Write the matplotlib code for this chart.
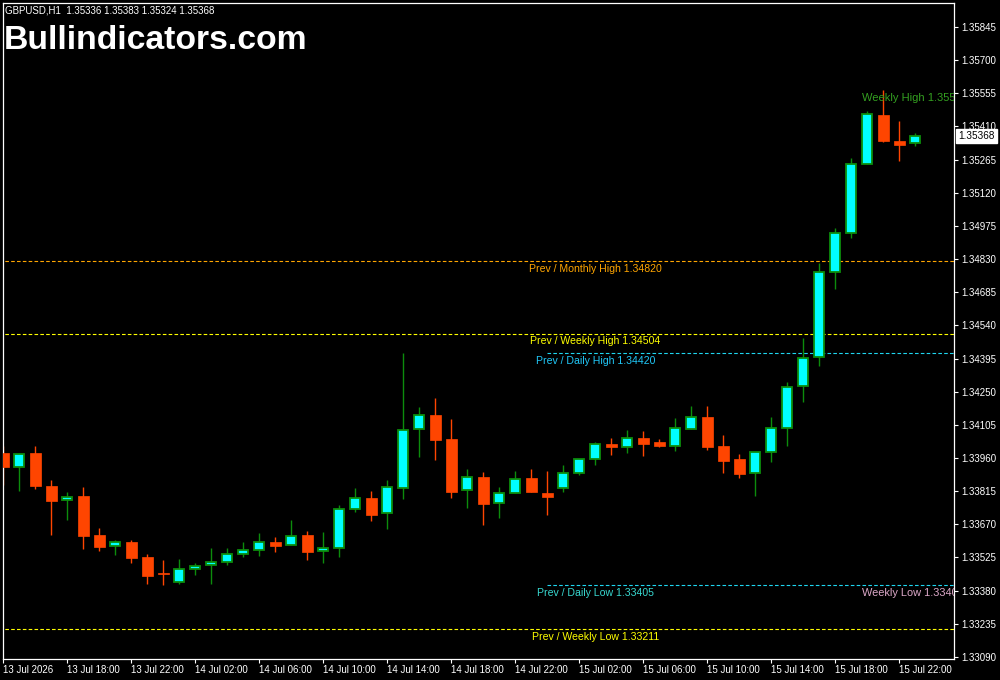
import numpy as np
import pandas as pd
import matplotlib
matplotlib.use('Agg')
import matplotlib.pyplot as plt
from matplotlib.transforms import offset_copy

plt.rcParams['font.family'] = ['Liberation Sans', 'DejaVu Sans']
plt.rcParams['lines.scale_dashes'] = False

# GBPUSD H1 bars, 13 Jul 14:00 .. 15 Jul 23:00
opens = [1.33983, 1.33922, 1.33982, 1.33838, 1.33775, 1.33794, 1.33624, 1.33574, 1.33593, 1.33527,
         1.33453, 1.33419, 1.33474, 1.33491, 1.33504, 1.33539, 1.33557, 1.33593, 1.33579, 1.33624,
         1.33552, 1.33565, 1.33736, 1.33785, 1.33718, 1.33828, 1.34086, 1.34148, 1.34043, 1.33819,
         1.33877, 1.33762, 1.33809, 1.33873, 1.33807, 1.33828, 1.33893, 1.33955, 1.34021, 1.34010,
         1.34048, 1.34030, 1.34014, 1.34088, 1.34140, 1.34013, 1.33956, 1.33893, 1.33985, 1.34090,
         1.34274, 1.34401, 1.34772, 1.34943, 1.35245, 1.35460, 1.35347, 1.35336]
highs = [1.34013, 1.33983, 1.34013, 1.33864, 1.33812, 1.33833, 1.33654, 1.33602, 1.33602, 1.33540,
         1.33514, 1.33519, 1.33501, 1.33567, 1.33567, 1.33593, 1.33632, 1.33615, 1.33689, 1.33641,
         1.33637, 1.33755, 1.33829, 1.33816, 1.33864, 1.34420, 1.34183, 1.34221, 1.34131, 1.33912,
         1.33899, 1.33833, 1.33903, 1.33912, 1.33903, 1.33930, 1.33955, 1.34030, 1.34048, 1.34083,
         1.34078, 1.34043, 1.34135, 1.34188, 1.34188, 1.34061, 1.33978, 1.33985, 1.34140, 1.34293,
         1.34485, 1.34813, 1.34966, 1.35272, 1.35478, 1.35570, 1.35434, 1.35383]
lows = [1.33842, 1.33817, 1.33826, 1.33625, 1.33690, 1.33564, 1.33555, 1.33537, 1.33502, 1.33411,
        1.33405, 1.33411, 1.33450, 1.33411, 1.33494, 1.33529, 1.33533, 1.33551, 1.33579, 1.33516,
        1.33502, 1.33529, 1.33725, 1.33686, 1.33651, 1.33781, 1.33966, 1.33953, 1.33787, 1.33743,
        1.33669, 1.33699, 1.33806, 1.33813, 1.33712, 1.33813, 1.33887, 1.33931, 1.33973, 1.33983,
        1.33970, 1.34010, 1.33992, 1.34088, 1.33997, 1.33896, 1.33874, 1.33795, 1.33944, 1.34014,
        1.34206, 1.34364, 1.34701, 1.34924, 1.35245, 1.35344, 1.35259, 1.35324]
closes = [1.33922, 1.33976, 1.33839, 1.33773, 1.33791, 1.33621, 1.33572, 1.33592, 1.33524, 1.33446,
          1.33451, 1.33474, 1.33487, 1.33504, 1.33539, 1.33557, 1.33592, 1.33577, 1.33618, 1.33551,
          1.33565, 1.33737, 1.33784, 1.33712, 1.33832, 1.34083, 1.34147, 1.34040, 1.33813, 1.33877,
          1.33760, 1.33806, 1.33867, 1.33813, 1.33791, 1.33893, 1.33955, 1.34020, 1.34010, 1.34046,
          1.34023, 1.34014, 1.34090, 1.34138, 1.34010, 1.33948, 1.33892, 1.33985, 1.34090, 1.34269,
          1.34396, 1.34772, 1.34943, 1.35245, 1.35465, 1.35347, 1.35330, 1.35368]

times = pd.date_range('2026-07-13 14:00', periods=len(opens), freq='h')

# level lines: (label, price, colour, text colour, start bar)
levels = [
    ('Prev / Monthly High', 1.34820, '#ffa500', '#ffa500', 0),
    ('Prev / Weekly High', 1.34504, '#ffff00', '#ffff00', 0),
    ('Prev / Daily High', 1.34420, '#1ed6f0', '#20c8f8', 34),
    ('Prev / Daily Low', 1.33405, '#1ed6f0', '#38d8d0', 34),
    ('Prev / Weekly Low', 1.33211, '#ffff00', '#ffff00', 0),
]
weekly_high = 1.35570
weekly_low = 1.33405

bull_face = '#00ffff'
bull_edge = '#0c8c0c'
bear_col = '#ff4500'

fig = plt.figure(figsize=(10, 6.8), dpi=100, facecolor='black')
ax = fig.add_axes([0.003, 0.0309, 0.951, 0.9647], facecolor='black')

o = np.array(opens)
h = np.array(highs)
l = np.array(lows)
c = np.array(closes)
x = np.arange(len(o))
up = c >= o

# wicks
ax.vlines(x[up], l[up], h[up], color=bull_edge, lw=1, zorder=2)
ax.vlines(x[~up], l[~up], h[~up], color=bear_col, lw=1, zorder=2)
# bodies
body_lo = np.minimum(o, c)
body_h = np.maximum(np.abs(c - o), 0.00004)
ax.bar(x[up], body_h[up], bottom=body_lo[up], width=0.62, color=bull_face,
       edgecolor=bull_edge, linewidth=1.3, zorder=3)
ax.bar(x[~up], body_h[~up], bottom=body_lo[~up], width=0.66, color=bear_col,
       edgecolor=bear_col, linewidth=0.5, zorder=3)

xmax = 59.42
below = offset_copy(ax.transData, fig=fig, x=0, y=-2, units='points')
for name, price, lc, tc, start in levels:
    x0 = start if start > 0 else -1
    ax.hlines(price, x0, xmax + 1, colors=lc, lw=0.8, linestyles=(0, (2.6, 1.6)), zorder=1)
    ax.text(37, price, f'{name} {price:.5f}', transform=below, ha='center', va='top',
            color=tc, fontsize=7.6, zorder=4)

ax.text(53.7, weekly_high, f'Weekly High {weekly_high:.5f}', transform=below,
        ha='left', va='top', color='#34a020', fontsize=8.0, clip_on=True)
ax.text(53.7, weekly_low, f'Weekly Low {weekly_low:.5f}', transform=below,
        ha='left', va='top', color='#dca8c8', fontsize=7.9, clip_on=True)

ax.set_xlim(-0.02, xmax)
ax.set_ylim(1.33081, 1.35950)

yt = [1.33090 + 0.00145 * i for i in range(20)]
ax.yaxis.tick_right()
ax.set_yticks(yt)
ax.set_yticklabels([f'{v:.5f}' for v in yt])

xt = x[::4]
xl = [times[0].strftime('%d Jul %Y')] + [t.strftime('%d Jul %H:%M') for t in times[::4][1:]]
ax.set_xticks(xt)
ax.set_xticklabels(xl, ha='left')

ax.tick_params(axis='both', colors='white', labelcolor='white', labelsize=7, length=3, width=0.8)
ax.tick_params(axis='y', pad=2)
ax.tick_params(axis='x', pad=1.5)
for s in ax.spines.values():
    s.set_color('white')
    s.set_linewidth(0.9)

# current price marker
ax.annotate(f'{closes[-1]:.5f}', xy=(1.0, closes[-1]), xycoords=('axes fraction', 'data'),
            xytext=(3, 0), textcoords='offset points', ha='left', va='center',
            fontsize=7.2, color='black', annotation_clip=False,
            bbox=dict(boxstyle='square,pad=0.2', fc='white', ec='white'))

fig.text(0.005, 0.985, 'GBPUSD,H1  1.35336 1.35383 1.35324 1.35368', color='white',
         fontsize=7, va='center', ha='left')
fig.text(0.004, 0.941, 'Bullindicators.com', color='white', fontsize=24.3,
         fontweight='bold', va='center', ha='left')

fig.savefig('out.png', dpi=100, facecolor='black')
